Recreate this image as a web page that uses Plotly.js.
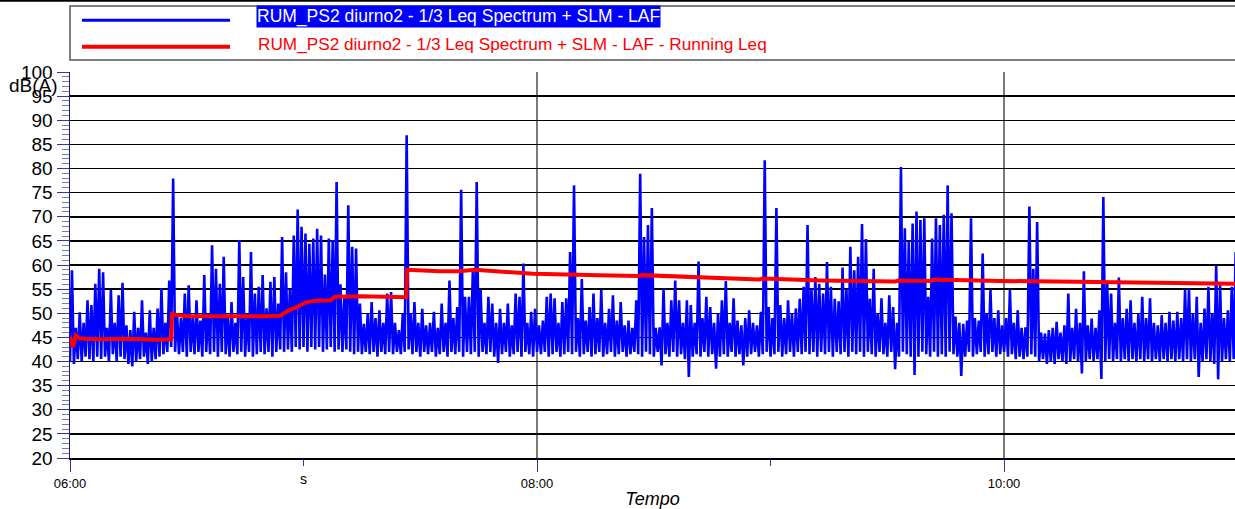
<!DOCTYPE html>
<html>
<head>
<meta charset="utf-8">
<script src="https://cdn.plot.ly/plotly-3.0.1.min.js"></script>
<style>
html,body{margin:0;padding:0;background:#fff;}
#chart{width:1235px;height:509px;}
</style>
</head>
<body>
<div id="chart"></div>
<script>
// Time axis: minutes after 06:00
const xTickVals = [0, 120, 240];
const xTickText = ["06:00", "08:00", "10:00"];
const xMinorTickVals = [60, 180];
const xMinorTickText = ["s"];
const yTickVals = [20, 25, 30, 35, 40, 45, 50, 55, 60, 65, 70, 75, 80, 85, 90, 95, 100];

const seriesNames = [
  "RUM_PS2 diurno2 - 1/3 Leq Spectrum + SLM - LAF",
  "RUM_PS2 diurno2 - 1/3 Leq Spectrum + SLM - LAF - Running Leq"
];

// LAF level, dB(A): samples every 0.5 min starting 06:00 (min/max pairs per minute)
const lafStepMin = 0.5;
const lafDb = [
  40,58.9, 39.5,47, 40.5,50.2, 40,48, 41,52.7, 40.5,51.7, 40,56.1, 41,59.2, 40.5,58.5, 41,47,
  40,54.8, 41.5,48, 40,53.7, 41,56.3, 40.5,47.5, 39.5,46.5, 39,50.3, 40,47, 40.5,52.7, 41,46,
  39.5,50.6, 40,47, 40.5,51, 41,55.1, 41.5,48, 42,56.8, 43,77.9, 42,50, 41.5,49, 42,54.1,
  41,55.8, 42,49, 41.5,52.7, 42,48.5, 41,57.9, 42,50, 41.5,64.1, 42,59.2, 41,56.1, 42,61.7,
  41.5,49, 41,52.3, 42,48, 41.5,65.2, 42,57.5, 41,50, 42,62.7, 41,54.1, 41.5,55.5, 42,57.9,
  41.5,51, 42,56.5, 41,57.5, 42,52, 42.5,65.8, 42,58.5, 42.5,55, 42,66.1, 43,71.5, 42.5,67.9,
  43,66.5, 42,64.4, 43,65.5, 42.5,67.5, 43,66.1, 42,58, 42.5,65.5, 43,65.2, 42,77.2, 42.5,56,
  42,53.1, 42.5,72.4, 42,63.8, 41.5,63.4, 42,52, 41.5,47.8, 42,50, 41.5,52.3, 42,49, 41,50.6,
  42,48, 41.5,54.1, 42,54.4, 41.5,48, 42,46.5, 41.5,49.9, 42,86.9, 42.5,50, 41.5,52.3, 42,48,
  41,50.9, 42,47.5, 41.5,48, 42,50.3, 41,47, 41.5,52, 42,48, 41,56.8, 42,49, 41.5,51.3,
  42,75.6, 41,53.4, 42,53.4, 41.5,58.9, 42,77.2, 41,54.8, 42,48, 41.5,53.4, 42,52, 41,48,
  39.7,50.9, 41.5,48, 42,52, 41,47.5, 41.5,54.1, 42,53.4, 41,60.3, 42,48, 41.5,50.3, 41,50.9,
  42,47.5, 41.5,48.5, 42,53.4, 41,54.1, 41.5,53.1, 42,48, 41,52.3, 41.5,53.1, 42,62.7, 41.5,76.5,
  42,49, 41,57.1, 41.5,48.5, 42,51.3, 41,54.1, 41.5,49, 42,54.8, 41,48, 41.5,50.9, 42,53.7,
  41,48.5, 41.5,52.3, 42,47.5, 41,48.5, 41.5,47, 42,52.7, 41.5,78.9, 41,65.8, 42,68.3, 41.5,71.8,
  41,47, 42,47.1, 39.2,55.1, 41.5,48, 41,52.7, 42,56.8, 41,52.7, 41.5,48, 40.5,52.7, 36.8,51.7,
  41,48, 41.5,60.7, 41,49, 42,53.4, 41,51.3, 41.5,48, 38.5,50, 41,52.7, 41.5,56.7, 41,48,
  42,53.1, 41,48.5, 41.5,47.5, 39.2,49, 41,50.6, 41.5,48, 42,47.5, 41,50.3, 41.5,81.7, 42,51.3,
  41,49, 41.5,71.8, 42,51.7, 41,49, 41.5,52.7, 42,50, 41,51, 42,53, 41.5,55.5, 42,68.3,
  41.5,55, 42,57.5, 41,56.1, 42,54.1, 41.5,60.6, 42,55.5, 41,53, 42,52.5, 41.5,59.5, 42,55,
  41,63.8, 42,58.9, 41.5,61.7, 42,68.5, 41,65.4, 42,53, 41.5,59.2, 41,50, 42,53.1, 41.5,48,
  41,53.7, 42,51.3, 38.4,48, 41,80.3, 42,67.6, 41.5,64.8, 41,68.6, 37.2,71.1, 41,69.3, 42,69.7,
  41.5,53.4, 41,65.5, 42,69.7, 41,68.3, 41.5,70.4, 41,76.5, 42,70.7, 41.5,49.3, 41,48, 37,47.8,
  41,48.5, 42,69.7, 41,49, 41.5,48.5, 42,62.4, 41,50, 41.5,54.8, 42,49, 41,50.6, 41.5,47.5,
  42,49, 41,54.8, 41.5,48, 40.5,50.6, 41,47, 40.5,47.1, 41,72.1, 41.5,59.2, 41,68.9, 40,46,
  40.5,45.8, 39.5,46.5, 40,47, 39.5,48.2, 40.5,46, 40,47.5, 39.5,54.1, 40,47, 40.5,50.9, 40,48,
  37.5,58.7, 40,47.5, 40.5,48.9, 40,47, 40.5,50.6, 36.4,74.1, 40,56.1, 40.5,54.1, 40,48, 40.5,57.4,
  40,49, 40.5,50.9, 40,52.7, 40.5,48, 40,50, 40.5,53.4, 40,49, 40.5,53.1, 40,48, 40.5,47.5,
  40,49.6, 40.5,48, 40,50.3, 40.5,48.5, 40,50.3, 40.5,49, 40,54.8, 40.5,55.1, 40,50, 40.5,53.4,
  36.8,48, 40,51, 40.5,55.5, 40,50, 39.5,59.9, 36.3,55.8, 40,49, 40.5,50.6, 40,55.5, 40.5,62.7
];

// Running Leq, dB(A)
const leqTimeMin = [0, 0.8, 1.5, 2.5, 4, 8, 15, 22, 26, 26.2, 30, 40, 50, 54, 56, 58, 60.8, 63, 67, 68,
  75, 86.4, 86.6, 95, 100, 104, 110, 119, 136, 146, 147, 162, 177, 178, 192.7, 212, 213, 221, 222, 239,
  257, 273, 287, 299.5];
const leqDb = [45.1, 43.0, 45.4, 44.8, 44.7, 44.6, 44.7, 44.5, 44.6, 49.8, 49.4, 49.3, 49.4, 49.5, 50.5, 51.2, 52.3, 52.6, 52.7, 53.4,
  53.5, 53.3, 59.0, 58.7, 58.7, 59.0, 58.6, 58.2, 57.9, 57.7, 57.9, 57.4, 57.0, 57.2, 56.8, 56.6, 56.8, 56.7, 57.0, 56.7,
  56.5, 56.3, 56.1, 56.1];

const lafTime = lafDb.map((_, i) => i * lafStepMin);

const plotL = 70, plotR = 1235, plotT = 72, plotB = 458;
const W = 1235, H = 509;
const pw = plotR - plotL, ph = plotB - plotT;
const px = v => (v - plotL) / pw;
const py = v => (plotB - v) / ph;

const traces = [
  {x: lafTime, y: lafDb, type: 'scatter', mode: 'lines', name: seriesNames[0],
   line: {color: '#0000ff', width: 2.6}, hoverinfo: 'skip'},
  {x: leqTimeMin, y: leqDb, type: 'scatter', mode: 'lines', name: seriesNames[1],
   line: {color: '#ff0000', width: 4}, hoverinfo: 'skip'}
];

const font = 'Liberation Sans, Arial, sans-serif';

const layout = {
  width: W, height: H,
  margin: {l: plotL, r: W - plotR, t: plotT, b: H - plotB, pad: 0},
  paper_bgcolor: '#fff', plot_bgcolor: '#fff',
  showlegend: false,
  font: {family: font, color: '#000'},
  xaxis: {
    range: [0, (plotR - plotL) / 3.892],
    tickmode: 'array', tickvals: xTickVals, ticktext: xTickText,
    ticks: 'outside', ticklen: 12, tickwidth: 1, tickcolor: '#3333aa',
    tickfont: {size: 13, family: 'Liberation Sans Narrow, Liberation Sans, Arial', color: '#000'},
    showgrid: true, gridcolor: '#7a7a7a', gridwidth: 1.5,
    minor: {tickmode: 'array', tickvals: xMinorTickVals, ticks: 'outside', ticklen: 6, tickwidth: 1, tickcolor: '#3333aa', showgrid: false},
    showline: true, linecolor: '#000', linewidth: 2,
    zeroline: false, fixedrange: true,
    title: {text: '<i>Tempo</i>', font: {size: 18, family: font, color: '#000'}, standoff: 8}
  },
  yaxis: {
    range: [20, 100],
    tickmode: 'array', tickvals: yTickVals,
    ticks: 'outside', ticklen: 12, tickwidth: 1, tickcolor: '#3333aa',
    tickfont: {size: 19, family: font, color: '#000'},
    minor: {dtick: 1, ticks: 'outside', ticklen: 7, tickwidth: 1, tickcolor: '#7777bb', showgrid: false},
    showgrid: true, gridcolor: '#000', gridwidth: 1.5,
    showline: true, linecolor: '#1a1a80', linewidth: 1.5,
    zeroline: false, fixedrange: true
  },
  shapes: [
    {type: 'line', xref: 'paper', yref: 'paper', x0: px(0), x1: px(W), y0: py(0.8), y1: py(0.8), line: {color: '#000', width: 2}},
    {type: 'rect', xref: 'paper', yref: 'paper', x0: px(70), x1: px(1250), y0: py(60), y1: py(6), line: {color: '#555', width: 1.5}, fillcolor: 'rgba(0,0,0,0)'},
    {type: 'line', xref: 'paper', yref: 'paper', x0: px(82), x1: px(230), y0: py(20.3), y1: py(20.3), line: {color: '#0000ff', width: 3}},
    {type: 'line', xref: 'paper', yref: 'paper', x0: px(82), x1: px(230), y0: py(46.7), y1: py(46.7), line: {color: '#ff0000', width: 4}}
  ],
  annotations: [
    {xref: 'paper', yref: 'paper', x: px(256), y: py(17), xanchor: 'left', yanchor: 'middle', showarrow: false,
     text: seriesNames[0], bgcolor: '#0000ff', borderpad: 0, font: {size: 17.5, family: font, color: '#fff'}},
    {xref: 'paper', yref: 'paper', x: px(256), y: py(44), xanchor: 'left', yanchor: 'middle', showarrow: false,
     text: seriesNames[1], font: {size: 17.2, family: font, color: '#ff0000'}},
    {xref: 'paper', yref: 'paper', x: px(7), y: py(85), xanchor: 'left', yanchor: 'middle', showarrow: false,
     text: 'dB(A)', font: {size: 19, family: font, color: '#000'}},
    {xref: 'x', yref: 'paper', x: xMinorTickVals[0], y: py(479), xanchor: 'center', yanchor: 'middle', showarrow: false,
     text: xMinorTickText[0], font: {size: 14, family: font, color: '#000'}}
  ]
};

Plotly.newPlot('chart', traces, layout, {staticPlot: true, displayModeBar: false});
</script>
</body>
</html>
